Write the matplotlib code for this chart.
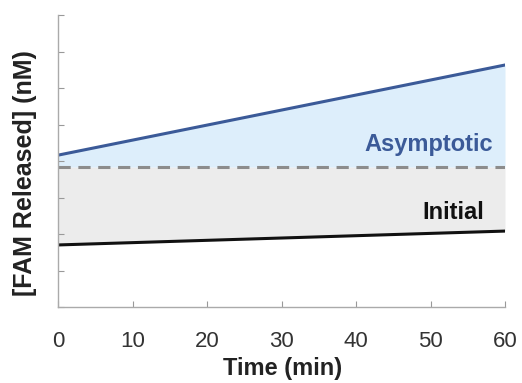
import numpy as np
import matplotlib as mpl
import matplotlib.pyplot as plt

mpl.rcParams['font.family'] = ['Liberation Sans', 'DejaVu Sans']

# data
time = [0, 60]
asymptotic = [4.16, 6.63]
initial = [1.70, 2.08]
plateau = [3.83, 3.83]
x_ticks = [0, 10, 20, 30, 40, 50, 60]
y_ticks = [0, 1, 2, 3, 4, 5, 6, 7, 8]

fig = plt.figure(figsize=(5.22, 3.83), dpi=100)
ax = fig.add_axes([58 / 522, 1 - 307 / 383, (505 - 58) / 522, (307 - 15) / 383])

ax.fill_between(time, plateau, asymptotic, color='#ddeefb', lw=0)
ax.fill_between(time, initial, plateau, color='#ececec', lw=0)
ax.plot(time, asymptotic, color='#3b5a98', lw=2.2)
ax.plot(time, plateau, color='#8c8c8c', lw=2.2, ls=(0, (4, 2.5)))
ax.plot(time, initial, color='#111111', lw=2.2)

ax.text(58.4, 4.44, 'Asymptotic', color='#3b5a98', fontsize=17, fontweight='bold',
        ha='right', va='center')
ax.text(57.2, 2.58, 'Initial', color='#111111', fontsize=17, fontweight='bold',
        ha='right', va='center')

ax.set_xlim(0, 60)
ax.set_ylim(0, 8)
ax.set_xticks(x_ticks)
ax.set_yticks(y_ticks)
ax.set_yticklabels([])
ax.tick_params(direction='in', color='#999999', length=4, width=0.8,
               labelsize=16, labelcolor='#333333', pad=17)
for s in ['top', 'right']:
    ax.spines[s].set_visible(False)
for s in ['left', 'bottom']:
    ax.spines[s].set_color('#aaaaaa')
    ax.spines[s].set_linewidth(1)

fig.text(283 / 522, 1 - 368 / 383, 'Time (min)', fontsize=17, fontweight='bold',
         color='#222222', ha='center', va='center')
fig.text(25 / 522, 1 - 173 / 383, '[FAM Released] (nM)', fontsize=18, fontweight='bold',
         color='#222222', ha='center', va='center', rotation=90)

plt.savefig('out.png', dpi=100)
